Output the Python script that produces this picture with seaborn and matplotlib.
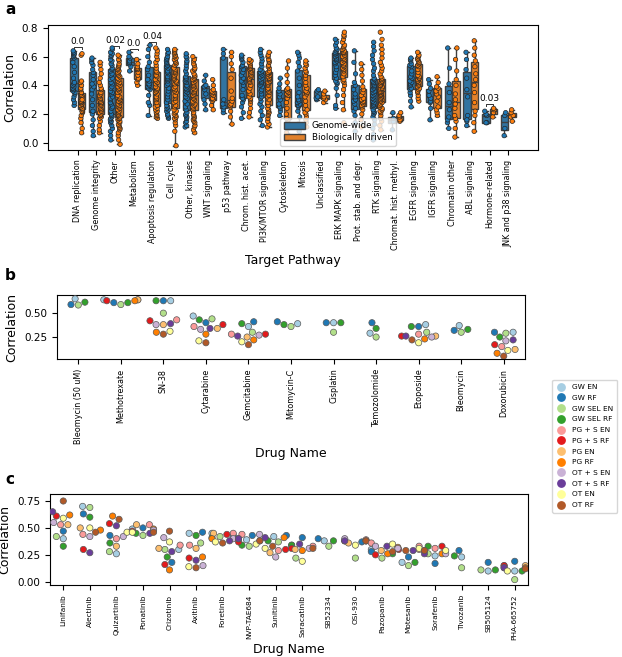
import warnings
import numpy as np
import pandas as pd
import seaborn as sns
import matplotlib.pyplot as plt
from matplotlib.lines import Line2D
from matplotlib.patches import Patch

warnings.filterwarnings("ignore")
np.random.seed(3)

# ---------------------------------------------------------
# Panel a: correlation per target pathway
# ---------------------------------------------------------
pathways = ["DNA replication", "Genome integrity", "Other", "Metabolism",
            "Apoptosis regulation", "Cell cycle", "Other, kinases", "WNT signaling",
            "p53 pathway", "Chrom. hist. acet.", "PI3K/MTOR signaling", "Cytoskeleton",
            "Mitosis", "Unclassified", "ERK MAPK signaling", "Prot. stab. and degr.",
            "RTK signaling", "Chromat. hist. methyl.", "EGFR signaling", "IGFR signaling",
            "Chromatin other", "ABL signaling", "Hormone-related", "JNK and p38 signaling"]
groups = ["Genome-wide", "Biologically driven"]

gw_dna = [0.26, 0.28, 0.30, 0.32, 0.34, 0.35, 0.36, 0.37, 0.38, 0.39, 0.40, 0.41,
          0.42, 0.45, 0.49, 0.53, 0.56, 0.59, 0.60, 0.61, 0.62, 0.62, 0.63, 0.64]
bd_dna = [0.07, 0.10, 0.14, 0.17, 0.19, 0.21, 0.22, 0.22, 0.23, 0.24, 0.25, 0.26,
          0.27, 0.27, 0.28, 0.28, 0.28, 0.29, 0.29, 0.30, 0.31, 0.32, 0.33, 0.34,
          0.35, 0.35, 0.37, 0.38, 0.40, 0.42, 0.43, 0.61, 0.62, 0.30]
gw_gen = [0.05, 0.08, 0.12, 0.16, 0.20, 0.22, 0.26, 0.30, 0.34, 0.37, 0.39, 0.41,
          0.44, 0.47, 0.49, 0.51, 0.54, 0.56, 0.58, 0.59]
bd_gen = [0.07, 0.09, 0.12, 0.15, 0.17, 0.18, 0.19, 0.19, 0.20, 0.21, 0.22, 0.23,
          0.24, 0.25, 0.26, 0.27, 0.28, 0.28, 0.29, 0.30, 0.31, 0.32, 0.33, 0.34,
          0.35, 0.37, 0.38, 0.40, 0.42, 0.45, 0.48, 0.51, 0.54, 0.56]
gw_oth = [0.02, 0.05, 0.08, 0.10, 0.12, 0.14, 0.15, 0.16, 0.17, 0.18, 0.19,
          0.20, 0.22, 0.24, 0.25, 0.27, 0.28, 0.30, 0.31, 0.32, 0.34, 0.35,
          0.36, 0.38, 0.39, 0.41, 0.42, 0.44, 0.45, 0.47, 0.48, 0.50, 0.51,
          0.52, 0.54, 0.55, 0.57, 0.58, 0.60, 0.61, 0.62, 0.63, 0.65, 0.66]
bd_oth = [-0.01, 0.02, 0.05, 0.07, 0.09, 0.10, 0.11, 0.12, 0.13, 0.14, 0.15, 0.16, 0.17, 0.17,
          0.18, 0.19, 0.20, 0.21, 0.22, 0.23, 0.24, 0.25, 0.26, 0.27, 0.28, 0.29, 0.29, 0.30,
          0.31, 0.32, 0.33, 0.35, 0.36, 0.37, 0.38, 0.39, 0.40, 0.41, 0.42, 0.43, 0.44, 0.45,
          0.46, 0.47, 0.48, 0.49, 0.50, 0.51, 0.52, 0.53, 0.54, 0.55, 0.57, 0.58, 0.60, 0.61]
gw_met = [0.50, 0.53, 0.55, 0.56, 0.57, 0.59, 0.60, 0.63]
bd_met = [0.40, 0.42, 0.44, 0.45, 0.47, 0.49, 0.51, 0.52, 0.52, 0.53, 0.55, 0.58]
gw_apo = [0.19, 0.26, 0.28, 0.33, 0.37, 0.38, 0.39, 0.40, 0.41, 0.43, 0.44, 0.47,
          0.51, 0.53, 0.56, 0.60, 0.65, 0.68]
bd_apo = [0.17, 0.18, 0.19, 0.20, 0.21, 0.22, 0.23, 0.24, 0.25,
          0.26, 0.28, 0.30, 0.31, 0.32, 0.34, 0.35, 0.36, 0.37,
          0.38, 0.39, 0.41, 0.42, 0.43, 0.44, 0.46, 0.47, 0.49,
          0.50, 0.52, 0.54, 0.56, 0.58, 0.60, 0.62, 0.64, 0.66]
gw_cc = [0.17, 0.18, 0.19, 0.20, 0.22, 0.23, 0.24, 0.25, 0.26,
         0.28, 0.30, 0.32, 0.34, 0.36, 0.38, 0.40, 0.41, 0.43,
         0.44, 0.45, 0.46, 0.48, 0.49, 0.50, 0.52, 0.53, 0.54,
         0.55, 0.56, 0.57, 0.58, 0.59, 0.60, 0.62, 0.63, 0.65]
bd_cc = [-0.02, 0.08, 0.12, 0.14, 0.16, 0.17, 0.18, 0.19, 0.20, 0.21, 0.22, 0.23,
         0.25, 0.26, 0.28, 0.29, 0.31, 0.32, 0.33, 0.35, 0.36, 0.37, 0.38, 0.39,
         0.41, 0.42, 0.43, 0.44, 0.45, 0.46, 0.47, 0.48, 0.49, 0.50, 0.51, 0.52,
         0.54, 0.55, 0.56, 0.57, 0.58, 0.59, 0.60, 0.61, 0.62, 0.63, 0.64, 0.65]
gw_okin = [0.11, 0.12, 0.14, 0.15, 0.17, 0.18, 0.19, 0.20, 0.21,
           0.23, 0.25, 0.27, 0.29, 0.31, 0.32, 0.34, 0.35, 0.36,
           0.37, 0.38, 0.39, 0.40, 0.42, 0.43, 0.44, 0.45, 0.46,
           0.48, 0.50, 0.52, 0.54, 0.56, 0.57, 0.59, 0.60, 0.62]
bd_okin = [0.07, 0.09, 0.11, 0.12, 0.14, 0.15, 0.16, 0.17, 0.18, 0.19, 0.20, 0.21,
           0.23, 0.24, 0.25, 0.26, 0.27, 0.28, 0.29, 0.30, 0.31, 0.32, 0.33, 0.33,
           0.34, 0.35, 0.36, 0.37, 0.38, 0.39, 0.40, 0.41, 0.42, 0.43, 0.44, 0.44,
           0.45, 0.46, 0.47, 0.48, 0.50, 0.51, 0.52, 0.54, 0.55, 0.57, 0.58, 0.60]
gw_wnt = [0.23, 0.27, 0.30, 0.34, 0.37, 0.39, 0.39, 0.40, 0.43, 0.47]
bd_wnt = [0.23, 0.26, 0.29, 0.30, 0.31, 0.33, 0.34, 0.35, 0.36, 0.37, 0.40, 0.44]
gw_p53 = [0.21, 0.23, 0.25, 0.27, 0.30, 0.59, 0.62, 0.65]
bd_p53 = [0.13, 0.18, 0.22, 0.25, 0.26, 0.27, 0.29, 0.31, 0.36, 0.45, 0.51, 0.55, 0.60, 0.63]
gw_cha = [0.17, 0.21, 0.25, 0.28, 0.30, 0.31, 0.33, 0.37, 0.40, 0.42, 0.43, 0.45,
          0.47, 0.49, 0.51, 0.53, 0.54, 0.56, 0.58, 0.59, 0.60, 0.61]
bd_cha = [0.18, 0.21, 0.24, 0.27, 0.29, 0.30, 0.31, 0.32, 0.34, 0.36, 0.38, 0.40,
          0.42, 0.43, 0.44, 0.45, 0.46, 0.47, 0.48, 0.49, 0.50, 0.51, 0.52, 0.52,
          0.53, 0.54, 0.55, 0.56, 0.57, 0.58]
gw_pi3k = [0.12, 0.16, 0.19, 0.22, 0.25, 0.27, 0.29, 0.31,
           0.32, 0.34, 0.36, 0.37, 0.39, 0.40, 0.41, 0.42,
           0.43, 0.44, 0.45, 0.46, 0.47, 0.48, 0.49, 0.50,
           0.51, 0.53, 0.55, 0.57, 0.59, 0.61, 0.63, 0.65]
bd_pi3k = [0.11, 0.13, 0.15, 0.17, 0.19, 0.20, 0.21, 0.22, 0.23, 0.24,
           0.26, 0.28, 0.30, 0.32, 0.33, 0.35, 0.36, 0.37, 0.38, 0.40, 0.41,
           0.42, 0.43, 0.44, 0.45, 0.45, 0.46, 0.47, 0.48, 0.48, 0.49, 0.49,
           0.50, 0.52, 0.53, 0.54, 0.56, 0.57, 0.58, 0.60, 0.61, 0.63]
gw_cyt = [0.19, 0.22, 0.24, 0.25, 0.27, 0.30, 0.32, 0.34, 0.36, 0.38, 0.41, 0.45]
bd_cyt = [0.07, 0.10, 0.13, 0.15, 0.16, 0.17, 0.20, 0.24, 0.28, 0.31, 0.33, 0.34,
          0.35, 0.36, 0.37, 0.38, 0.42, 0.47, 0.52, 0.57]
gw_mit = [0.08, 0.13, 0.18, 0.22, 0.25, 0.26, 0.27, 0.28, 0.29, 0.30, 0.32, 0.35,
          0.40, 0.45, 0.50, 0.53, 0.56, 0.59, 0.61, 0.63]
bd_mit = [0.11, 0.14, 0.16, 0.18, 0.20, 0.21, 0.23, 0.26, 0.29, 0.32, 0.34, 0.35,
          0.36, 0.38, 0.40, 0.42, 0.45, 0.47, 0.49, 0.50, 0.52, 0.54, 0.55, 0.57]
gw_unc = [0.30, 0.31, 0.32, 0.36, 0.37]
bd_unc = [0.28, 0.30, 0.31, 0.32, 0.34, 0.36]
gw_erk = [0.24, 0.26, 0.33, 0.38, 0.41, 0.42, 0.43,
          0.45, 0.47, 0.49, 0.51, 0.53, 0.55, 0.56,
          0.57, 0.58, 0.59, 0.60, 0.61, 0.62, 0.62,
          0.63, 0.64, 0.65, 0.66, 0.68, 0.70, 0.72]
bd_erk = [0.14, 0.23, 0.28, 0.33, 0.37, 0.40, 0.42, 0.43, 0.44,
          0.46, 0.48, 0.50, 0.51, 0.52, 0.53, 0.54, 0.55, 0.56,
          0.57, 0.58, 0.59, 0.60, 0.61, 0.62, 0.63, 0.63, 0.64,
          0.65, 0.66, 0.67, 0.68, 0.70, 0.72, 0.74, 0.75, 0.77]
gw_prot = [0.08, 0.14, 0.19, 0.22, 0.24, 0.27, 0.29, 0.30, 0.32, 0.34, 0.37, 0.40,
           0.42, 0.48, 0.56, 0.64]
bd_prot = [0.11, 0.16, 0.20, 0.23, 0.25, 0.26, 0.27, 0.28, 0.29, 0.30, 0.30, 0.31,
           0.33, 0.35, 0.37, 0.39, 0.43, 0.47, 0.51, 0.55]
gw_rtk = [0.02, 0.06, 0.10, 0.13, 0.16, 0.18, 0.20, 0.21, 0.22, 0.23,
          0.25, 0.26, 0.27, 0.28, 0.29, 0.30, 0.31, 0.32, 0.33, 0.34,
          0.35, 0.36, 0.37, 0.38, 0.39, 0.40, 0.41, 0.42, 0.43, 0.44,
          0.45, 0.47, 0.50, 0.52, 0.55, 0.58, 0.61, 0.64, 0.67, 0.70]
bd_rtk = [0.09, 0.12, 0.15, 0.17, 0.19, 0.21, 0.22, 0.23, 0.24, 0.25, 0.26, 0.27, 0.28,
          0.29, 0.30, 0.30, 0.31, 0.32, 0.32, 0.33, 0.33, 0.34, 0.34, 0.35, 0.35, 0.36,
          0.36, 0.37, 0.38, 0.38, 0.39, 0.40, 0.40, 0.41, 0.42, 0.42, 0.43, 0.43, 0.44,
          0.45, 0.46, 0.48, 0.50, 0.52, 0.54, 0.56, 0.59, 0.62, 0.65, 0.68, 0.72, 0.77]
gw_chm = [0.09, 0.15, 0.17, 0.21]
bd_chm = [0.15, 0.16, 0.18, 0.19, 0.21]
gw_egfr = [0.25, 0.29, 0.33, 0.35, 0.37, 0.38, 0.40, 0.41, 0.42, 0.43, 0.45, 0.46,
           0.48, 0.50, 0.53, 0.54, 0.55, 0.57, 0.58, 0.59]
bd_egfr = [0.29, 0.31, 0.33, 0.35, 0.36, 0.37, 0.38, 0.39, 0.40, 0.41, 0.42, 0.43,
           0.43, 0.44, 0.45, 0.45, 0.46, 0.47, 0.49, 0.51, 0.53, 0.54, 0.55, 0.56,
           0.57, 0.58, 0.59, 0.60, 0.61, 0.63]
gw_igfr = [0.16, 0.24, 0.28, 0.29, 0.31, 0.33, 0.36, 0.38, 0.41, 0.44]
bd_igfr = [0.19, 0.21, 0.23, 0.25, 0.29, 0.32, 0.34, 0.36, 0.38, 0.39, 0.42, 0.46]
gw_chro = [0.10, 0.14, 0.16, 0.18, 0.23, 0.28, 0.35, 0.41, 0.52, 0.66]
bd_chro = [0.04, 0.10, 0.15, 0.17, 0.19, 0.24, 0.27, 0.30, 0.34, 0.40, 0.44, 0.50, 0.58, 0.66]
gw_abl = [0.12, 0.15, 0.16, 0.19, 0.32, 0.37, 0.45, 0.51, 0.58, 0.63]
bd_abl = [0.08, 0.14, 0.19, 0.22, 0.28, 0.35, 0.40, 0.44, 0.48, 0.53, 0.57, 0.61, 0.66, 0.71]
gw_hor = [0.14, 0.14, 0.19, 0.20, 0.22]
bd_hor = [0.18, 0.21, 0.23, 0.24]
gw_jnk = [0.05, 0.10, 0.19, 0.21]
bd_jnk = [0.15, 0.18, 0.19, 0.21, 0.23]

gw_series = [gw_dna, gw_gen, gw_oth, gw_met, gw_apo, gw_cc, gw_okin, gw_wnt, gw_p53,
             gw_cha, gw_pi3k, gw_cyt, gw_mit, gw_unc, gw_erk, gw_prot, gw_rtk, gw_chm,
             gw_egfr, gw_igfr, gw_chro, gw_abl, gw_hor, gw_jnk]
bd_series = [bd_dna, bd_gen, bd_oth, bd_met, bd_apo, bd_cc, bd_okin, bd_wnt, bd_p53,
             bd_cha, bd_pi3k, bd_cyt, bd_mit, bd_unc, bd_erk, bd_prot, bd_rtk, bd_chm,
             bd_egfr, bd_igfr, bd_chro, bd_abl, bd_hor, bd_jnk]

# significance annotations (p-values)
pval_pathways = ["DNA replication", "Other", "Metabolism", "Apoptosis regulation", "Hormone-related"]
pval_text = ["0.0", "0.02", "0.0", "0.04", "0.03"]
pval_height = [0.665, 0.675, 0.655, 0.70, 0.27]

# ---------------------------------------------------------
# Panel b / c: correlation per drug and model
# ---------------------------------------------------------
models = ["GW EN", "GW RF", "GW SEL EN", "GW SEL RF", "PG + S EN", "PG + S RF",
          "PG EN", "PG RF", "OT + S EN", "OT + S RF", "OT EN", "OT RF"]
nan = np.nan

drugs_b = ["Bleomycin (50 uM)", "Methotrexate", "SN-38", "Cytarabine", "Gemcitabine",
           "Mitomycin-C", "Cisplatin", "Temozolomide", "Etoposide", "Bleomycin", "Doxorubicin"]
b_gw_en = [0.65, 0.64, 0.63, 0.47, 0.36, 0.39, 0.40, 0.29, 0.38, 0.37, 0.30]
b_gw_rf = [0.59, 0.61, 0.63, 0.40, 0.41, 0.41, 0.40, 0.40, 0.36, 0.32, 0.30]
b_gws_en = [0.585, 0.59, 0.50, 0.44, 0.30, 0.36, 0.30, 0.25, 0.30, 0.30, 0.29]
b_gws_rf = [0.615, 0.61, 0.63, 0.43, 0.39, 0.38, 0.40, 0.34, 0.36, 0.33, 0.25]
b_pgs_en = [nan, 0.64, 0.43, 0.36, 0.28, nan, nan, nan, 0.28, nan, 0.15]
b_pgs_rf = [nan, 0.63, 0.42, 0.38, 0.28, nan, nan, nan, 0.26, nan, 0.17]
b_pg_en = [nan, 0.64, 0.38, 0.34, 0.25, nan, nan, nan, 0.26, nan, 0.12]
b_pg_rf = [nan, 0.63, 0.30, 0.28, 0.22, nan, nan, nan, 0.23, nan, 0.08]
b_ots_en = [nan, nan, 0.38, 0.33, 0.27, nan, nan, nan, 0.25, nan, 0.21]
b_ots_rf = [nan, nan, 0.39, 0.34, 0.26, nan, nan, nan, 0.26, nan, 0.22]
b_ot_en = [nan, nan, 0.31, 0.21, 0.20, nan, nan, nan, 0.19, nan, 0.11]
b_ot_rf = [nan, nan, 0.28, 0.19, 0.17, nan, nan, nan, 0.22, nan, 0.05]
b_series = [b_gw_en, b_gw_rf, b_gws_en, b_gws_rf, b_pgs_en, b_pgs_rf,
            b_pg_en, b_pg_rf, b_ots_en, b_ots_rf, b_ot_en, b_ot_rf]

drugs_c = ["Linifanib", "Alectinib", "Quizartinib", "Ponatinib", "Crizotinib", "Axitinib",
           "Foretinib", "NVP-TAE684", "Sunitinib", "Saracatinib", "SB52334", "OSI-930",
           "Pazopanib", "Motesanib", "Sorafenib", "Tivozanib", "SB505124", "PHA-665752"]
c_gw_en = [0.40, 0.70, 0.26, 0.49, 0.30, 0.45, 0.45, 0.39, 0.42, 0.34, 0.38, 0.38, 0.30, 0.18, 0.24, 0.23, 0.10, 0.10]
c_gw_rf = [0.47, 0.63, 0.43, 0.50, 0.18, 0.46, 0.43, 0.43, 0.43, 0.41, 0.40, 0.37, 0.28, 0.23, 0.17, 0.29, 0.18, 0.19]
c_gws_en = [0.42, 0.69, 0.28, 0.43, 0.30, 0.36, 0.42, 0.33, 0.37, 0.22, 0.33, 0.22, 0.22, 0.15, 0.26, 0.13, 0.11, 0.02]
c_gws_rf = [0.33, 0.60, 0.36, 0.45, 0.23, 0.43, 0.41, 0.34, 0.38, 0.34, 0.38, 0.38, 0.26, 0.18, 0.33, 0.24, 0.11, 0.10]
c_pgs_en = [0.53, 0.44, 0.40, 0.53, 0.34, 0.34, 0.45, 0.44, 0.29, 0.33, nan, 0.39, 0.36, 0.33, 0.31, nan, nan, 0.15]
c_pgs_rf = [0.61, 0.30, 0.54, 0.47, 0.16, 0.22, 0.44, 0.37, 0.30, 0.31, nan, 0.38, 0.25, 0.30, 0.33, nan, nan, 0.15]
c_pg_en = [0.53, 0.50, 0.33, 0.53, 0.31, 0.31, 0.45, 0.38, 0.27, 0.30, nan, 0.36, 0.29, 0.30, 0.29, nan, nan, 0.15]
c_pg_rf = [0.62, 0.48, 0.61, 0.49, 0.11, 0.23, 0.40, 0.40, 0.41, 0.29, nan, 0.38, 0.26, 0.32, 0.26, nan, nan, 0.13]
c_ots_en = [0.55, 0.42, 0.42, 0.48, 0.41, 0.15, 0.40, 0.44, 0.23, 0.31, nan, 0.40, 0.33, 0.31, 0.26, nan, nan, 0.13]
c_ots_rf = [0.65, 0.27, 0.52, 0.45, 0.28, 0.20, 0.38, 0.40, 0.41, 0.35, nan, 0.38, 0.33, 0.29, 0.26, nan, nan, 0.13]
c_ot_en = [0.59, 0.50, 0.46, 0.46, 0.37, 0.14, 0.37, 0.35, 0.31, 0.19, nan, 0.34, 0.35, 0.31, 0.29, nan, nan, 0.10]
c_ot_rf = [0.75, 0.46, 0.58, 0.46, 0.47, 0.13, 0.36, 0.38, 0.33, 0.31, nan, 0.38, 0.28, 0.29, 0.29, nan, nan, 0.12]
c_series = [c_gw_en, c_gw_rf, c_gws_en, c_gws_rf, c_pgs_en, c_pgs_rf,
            c_pg_en, c_pg_rf, c_ots_en, c_ots_rf, c_ot_en, c_ot_rf]

# ---------------------------------------------------------
# Build long tables
# ---------------------------------------------------------
rows = []
for name, gw, bd in zip(pathways, gw_series, bd_series):
    rows += [(name, groups[0], v) for v in gw]
    rows += [(name, groups[1], v) for v in bd]
df_a = pd.DataFrame(rows, columns=["pathway", "group", "corr"])


def long_table(drugs, series):
    out = []
    for model, vals in zip(models, series):
        out += [(d, model, v) for d, v in zip(drugs, vals)]
    return pd.DataFrame(out, columns=["drug", "model", "corr"]).dropna()


df_b = long_table(drugs_b, b_series)
df_c = long_table(drugs_c, c_series)

# ---------------------------------------------------------
# Figure
# ---------------------------------------------------------
W, H = 622, 657
fig = plt.figure(figsize=(W / 100, H / 100), dpi=100)
ax_a = fig.add_axes([48 / W, 1 - 150 / H, 490 / W, 125 / H])
ax_b = fig.add_axes([57 / W, 1 - 359 / H, 468 / W, 64 / H])
ax_c = fig.add_axes([50 / W, 1 - 585 / H, 478 / W, 91 / H])

pal_ab = ["#1f77b4", "#ff7f0e"]
paired = sns.color_palette("Paired", 12)

sns.boxplot(data=df_a, x="pathway", y="corr", hue="group", order=pathways,
            hue_order=groups, palette=pal_ab, saturation=0.75, showfliers=False,
            linewidth=1, linecolor="0.25", width=0.8, ax=ax_a, legend=False)
sns.stripplot(data=df_a, x="pathway", y="corr", hue="group", order=pathways,
              hue_order=groups, palette=pal_ab, dodge=True, jitter=0.13, size=3.2,
              linewidth=0.5, edgecolor="0.15", ax=ax_a, legend=False)

for name, txt, yh in zip(pval_pathways, pval_text, pval_height):
    xc = pathways.index(name)
    ax_a.plot([xc - 0.2, xc - 0.2, xc + 0.2, xc + 0.2], [yh - 0.012, yh, yh, yh - 0.012],
              color="0.2", lw=0.7)
    ax_a.text(xc, yh + 0.008, txt, ha="center", va="bottom", fontsize=6.5)

ax_a.set_ylim(-0.05, 0.82)
ax_a.set_yticks([0, 0.2, 0.4, 0.6, 0.8])
ax_a.set_xlabel("Target Pathway", fontsize=9, labelpad=3)
ax_a.set_ylabel("Correlation", fontsize=9)
ax_a.tick_params(axis="x", labelrotation=90, labelsize=5.8)
ax_a.tick_params(axis="y", labelsize=7.5)
box_cols = sns.color_palette(pal_ab, desat=0.75)
ax_a.legend(handles=[Patch(facecolor=box_cols[0], edgecolor="0.25", label=groups[0]),
                     Patch(facecolor=box_cols[1], edgecolor="0.25", label=groups[1])],
            loc="lower left", bbox_to_anchor=(0.465, 0.0), fontsize=6.3,
            handlelength=2.4, borderpad=0.4, labelspacing=0.3)

for ax, df, drugs, ylim, yticks, xfs in [(ax_b, df_b, drugs_b, (0.02, 0.69), [0.25, 0.50], 5.8),
                                         (ax_c, df_c, drugs_c, (-0.03, 0.815), [0.0, 0.25, 0.50, 0.75], 5.3)]:
    sns.swarmplot(data=df, x="drug", y="corr", hue="model", order=drugs,
                  hue_order=models, palette=paired, size=4.5, linewidth=0.5,
                  edgecolor="0.35", ax=ax, legend=False)
    ax.set_ylim(*ylim)
    ax.set_yticks(yticks)
    ax.set_yticklabels([f"{t:.2f}" for t in yticks])
    ax.set_xlabel("Drug Name", fontsize=9, labelpad=2)
    ax.set_ylabel("Correlation", fontsize=9)
    ax.tick_params(axis="x", labelrotation=90, labelsize=xfs)
    ax.tick_params(axis="y", labelsize=7.5)

handles = [Line2D([], [], marker="o", linestyle="", markersize=5.3,
                  markerfacecolor=paired[i], markeredgecolor=paired[i], label=m)
           for i, m in enumerate(models)]
fig.legend(handles=handles, loc="upper right", bbox_to_anchor=(0.998, 1 - 376 / H),
           fontsize=5.3, handletextpad=0.8, labelspacing=0.62, borderpad=0.6,
           handlelength=1.2)

fig.text(5 / W, 1 - 9 / H, "a", fontsize=11, fontweight="bold", va="center")
fig.text(5 / W, 1 - 276 / H, "b", fontsize=11, fontweight="bold", va="center")
fig.text(5 / W, 1 - 479 / H, "c", fontsize=11, fontweight="bold", va="center")

fig.savefig("out.png", dpi=100)
